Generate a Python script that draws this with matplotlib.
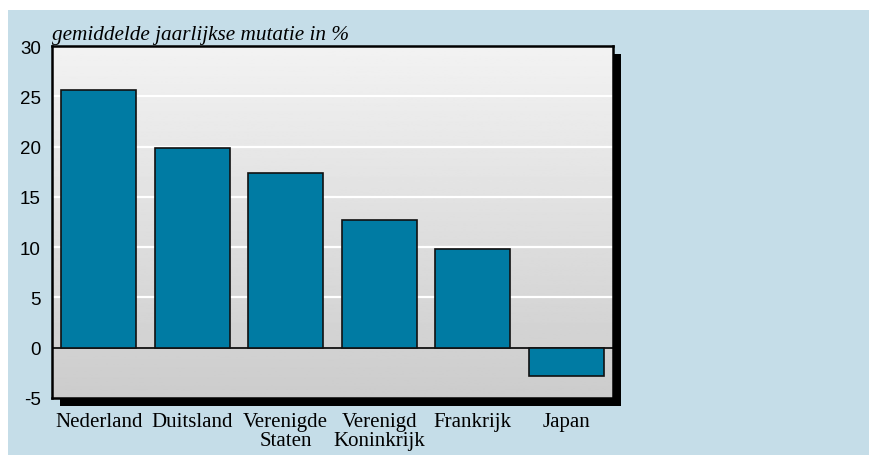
import numpy as np
import matplotlib
matplotlib.use("Agg")
import matplotlib.pyplot as plt
from matplotlib.patches import Rectangle

# data
landen = ["Nederland", "Duitsland", "Verenigde\nStaten", "Verenigd\nKoninkrijk", "Frankrijk", "Japan"]
mutatie = [25.6, 19.9, 17.4, 12.7, 9.8, -2.8]
yticks = [-5, 0, 5, 10, 15, 20, 25, 30]

W, H = 869, 456
fig = plt.figure(figsize=(W / 100, H / 100), dpi=100)
fig.patch.set_facecolor("white")

# light blue panel behind everything
fig.patches.append(Rectangle((8 / W, 0), 1 - 8 / W, 1 - 11 / H, transform=fig.transFigure,
                             facecolor="#c5dde8", edgecolor="none", zorder=-10))

x0, y0, w, h = 52 / W, 57 / H, 561 / W, 352 / H
# drop shadow
fig.patches.append(Rectangle((x0 + 8 / W, y0 - 8 / H), w, h, transform=fig.transFigure,
                             facecolor="black", edgecolor="none", zorder=-5))

ax = fig.add_axes([x0, y0, w, h])
ax.set_xlim(-0.5, 5.5)
ax.set_ylim(-5, 30)

# grey gradient background
grad = np.linspace(0.95, 0.80, 256).reshape(-1, 1)
ax.imshow(grad, extent=[-0.5, 5.5, -5, 30], aspect="auto", cmap="gray", vmin=0, vmax=1,
          zorder=0, origin="upper")

for yv in yticks[2:-1]:
    ax.axhline(yv, color="white", lw=1.6, zorder=1)
ax.axhline(0, color="black", lw=1.2, zorder=2)

x = np.arange(len(landen))
ax.bar(x, mutatie, width=0.8, color="#007ba3", edgecolor="#111111", linewidth=1.2, zorder=3)

for s in ax.spines.values():
    s.set_linewidth(1.8)
    s.set_color("black")
    s.set_zorder(5)

ax.set_xticks(x)
ax.set_xticklabels(landen, fontfamily="Liberation Serif", fontsize=15, linespacing=1.0,
                   va="top")
ax.set_yticks(yticks)
ax.set_yticklabels([str(v) for v in yticks], fontfamily="Liberation Sans", fontsize=13.5)
ax.tick_params(axis="both", length=0)
ax.tick_params(axis="x", pad=10)
ax.tick_params(axis="y", pad=8)

fig.text(x0, 1 - 26 / H, "gemiddelde jaarlijkse mutatie in %", fontfamily="Liberation Serif",
         style="italic", fontsize=15.3, ha="left", va="top")

fig.savefig("out.png", dpi=100)
